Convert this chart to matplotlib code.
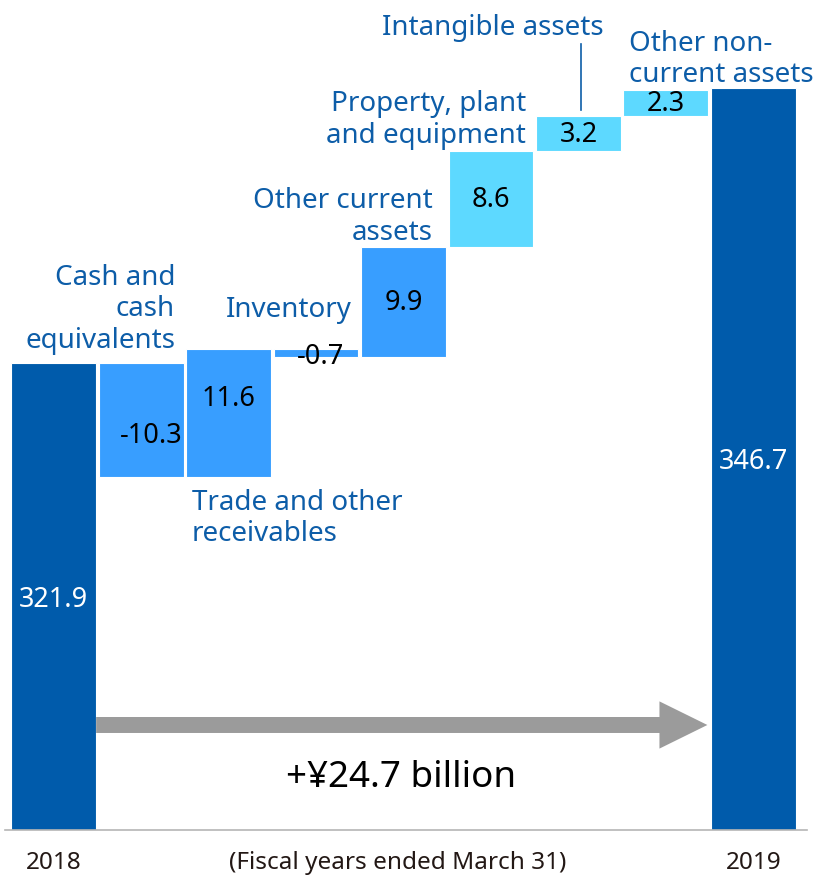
import matplotlib
matplotlib.use("Agg")
import matplotlib.pyplot as plt
from matplotlib.patches import FancyArrowPatch, ArrowStyle

plt.rcParams["font.family"] = ["Noto Sans", "DejaVu Sans"]

# Total assets (billions of yen) and the changes between the two year-ends
years = ["2018", "2019"]
totals = [321.9, 346.7]
change_names = [
    "Cash and\ncash\nequivalents",
    "Trade and other\nreceivables",
    "Inventory",
    "Other current\nassets",
    "Property, plant\nand equipment",
    "Intangible assets",
    "Other non-\ncurrent assets",
]
changes = [-10.3, 11.6, -0.7, 9.9, 8.6, 3.2, 2.3]
change_kind = ["current", "current", "current", "current",
               "noncurrent", "noncurrent", "noncurrent"]
net_change = 24.7
footnote = "(Fiscal years ended March 31)"

DARK = "#005BAB"
MID = "#389EFF"
LIGHT = "#5DD9FF"
LABEL_BLUE = "#0D5DA8"
TEXT_DARK = "#231815"
colors = {"current": MID, "noncurrent": LIGHT}

fig = plt.figure(figsize=(8.15, 8.76), dpi=100)
ax = fig.add_axes([10 / 815, 46 / 876, 787 / 815, 830 / 876])
ymin = 279.8
ax.set_xlim(-0.5, 8.5)
ax.set_ylim(ymin, 354.65)
ax.axis("off")

W = 0.97

# Opening and closing totals
ax.bar([0, 8], [t - ymin for t in totals], bottom=ymin, width=W,
       color=DARK, edgecolor="white", linewidth=0.8)

# Floating change bars
running = totals[0]
bottoms, tops = [], []
for i, (v, k) in enumerate(zip(changes, change_kind)):
    lo, hi = min(running, running + v), max(running, running + v)
    ax.bar(i + 1, hi - lo, bottom=lo, width=W, color=colors[k],
           edgecolor="white", linewidth=0.8)
    bottoms.append(lo)
    tops.append(hi)
    running += v

# Value labels
vfs = 19.5
for x, t in zip([0, 8], totals):
    ax.text(x, (ymin + t) / 2 - 0.3, f"{t:.1f}", color="white", fontsize=vfs,
            ha="center", va="center")

label_shift = [(0.11, -1.4), (0.0, 1.3), (0.05, -0.4), (0, -0.1), (0, -0.1), (0, -0.1), (0, -0.1)]
for i, v in enumerate(changes):
    dx, dy = label_shift[i]
    ax.text(i + 1 + dx, (bottoms[i] + tops[i]) / 2 + dy, f"{v:.1f}",
            color="black", fontsize=vfs, ha="center", va="center")

# Category labels
cfs = 20
cat_pos = [
    (1.387, 326.77, "right"),
    (1.58, 307.88, "left"),
    (3.41, 326.66, "right"),
    (4.33, 335.08, "right"),
    (5.40, 343.84, "right"),
    (6.29, 352.13, "right"),
    (6.58, 349.3, "left"),
]
for name, (x, y, ha) in zip(change_names, cat_pos):
    ax.text(x, y, name, color=LABEL_BLUE, fontsize=cfs, ha=ha, va="center",
            multialignment=ha, linespacing=1.17, clip_on=False)

# Leader for intangible assets
ax.plot([6.03, 6.03], [tops[5] + 0.55, tops[5] + 6.5], color=LABEL_BLUE, lw=1.2)

# Net change arrow between the totals
arrow = FancyArrowPatch(
    (0 + W / 2, 289.27), (8 - W / 2 - 0.04, 289.27),
    arrowstyle=ArrowStyle.Simple(head_length=3.45, head_width=3.4, tail_width=1.15),
    mutation_scale=10, shrinkA=0, shrinkB=0, color="#9B9B9B", lw=0)
ax.add_patch(arrow)
ax.text(3.97, 284.5, f"+¥{net_change:.1f} billion", color="black",
        fontsize=26.5, ha="center", va="center")

# Baseline and bottom labels
ax.plot([-0.557, 8.62], [ymin, ymin], color="#B5B5B5", lw=1.2, clip_on=False)
for x, s in [(0, years[0]), (8, years[1]), (3.93, footnote)]:
    ax.text(x, 276.85, s, color=TEXT_DARK, fontsize=17.5, ha="center",
            va="center", clip_on=False)

fig.savefig("out.png", dpi=100)
